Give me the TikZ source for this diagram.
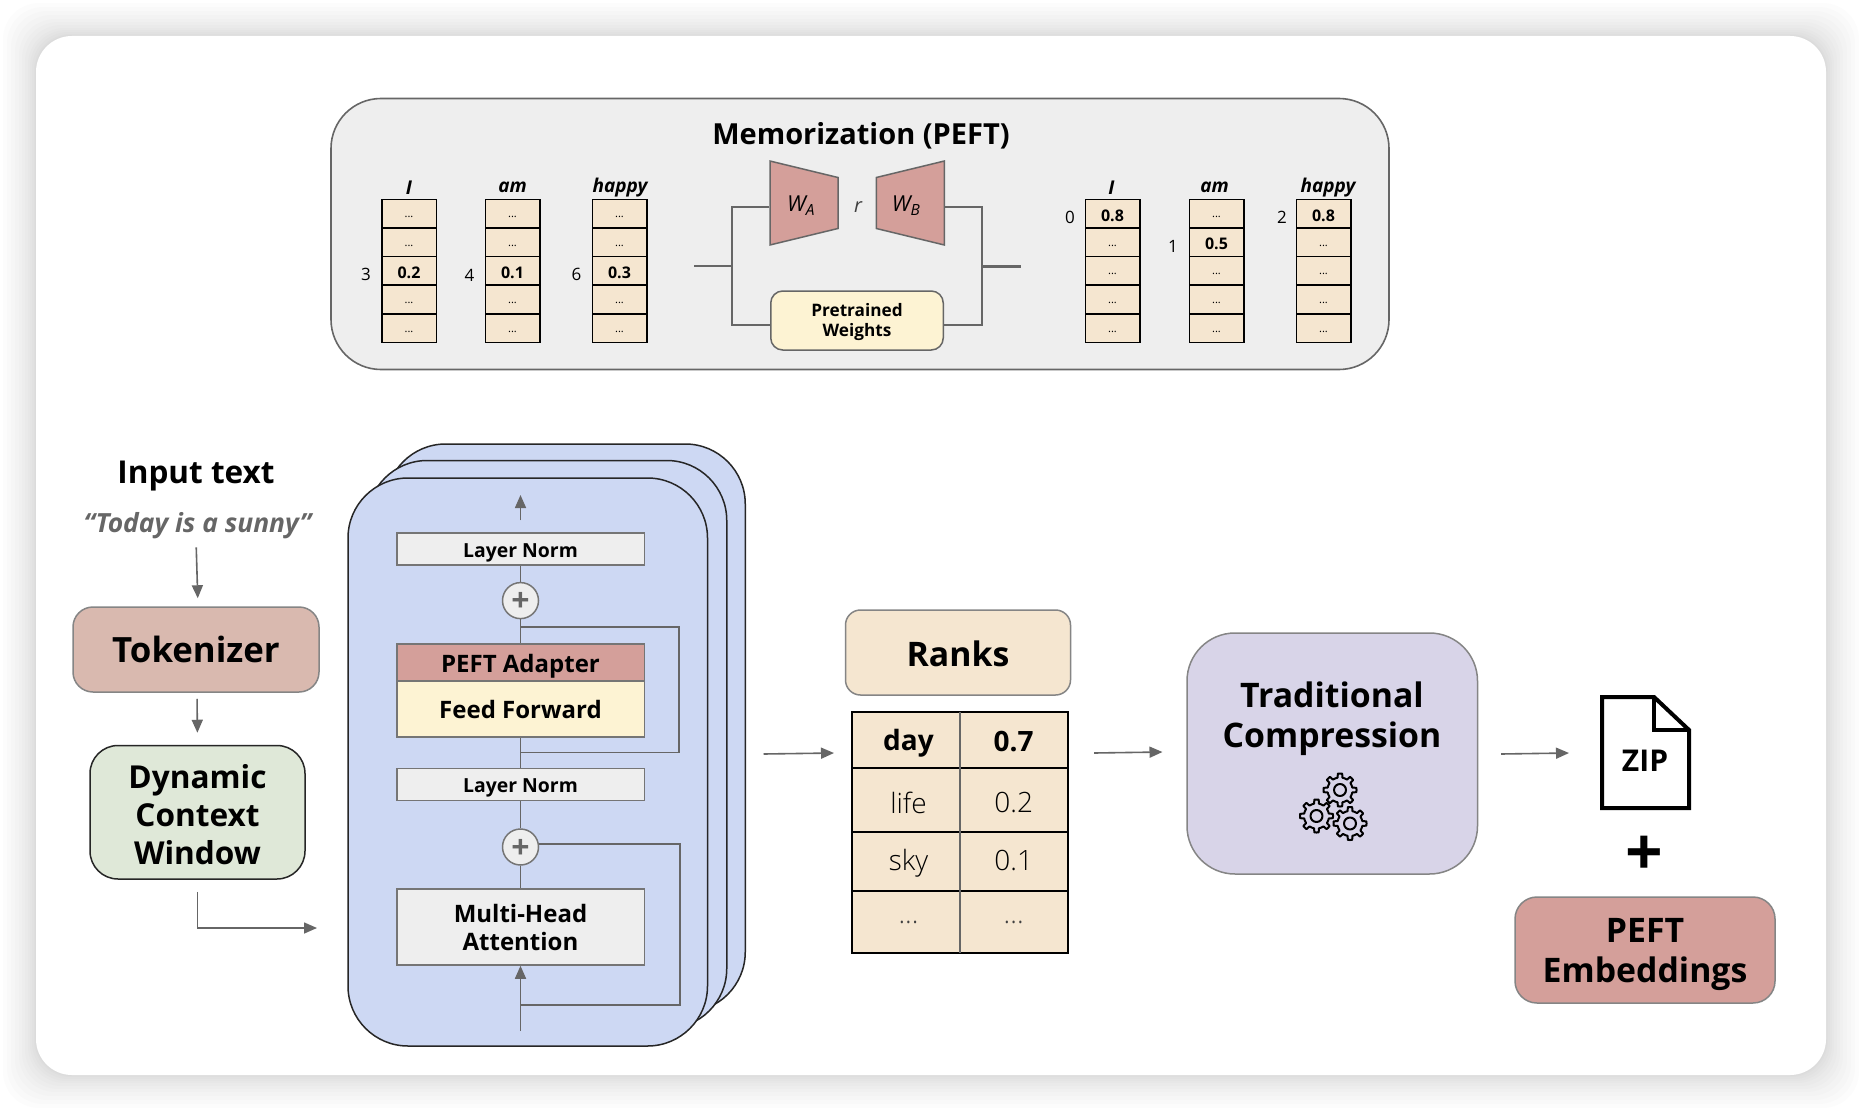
\documentclass[tikz,border=0pt]{standalone}
\usepackage{fontspec}
\setmainfont{Open Sans}
\newfontfamily\lightfont{Open Sans Light}
\usepackage{xcolor}
\usetikzlibrary{shapes.geometric,arrows.meta}

\definecolor{sand}{HTML}{F5E6D0}
\definecolor{cream}{HTML}{FDF3D3}
\definecolor{adapter}{HTML}{D49F9A}
\definecolor{tokred}{HTML}{D9B9AF}
\definecolor{softgreen}{HTML}{DFE8D8}
\definecolor{softblue}{HTML}{CDD8F3}
\definecolor{lilac}{HTML}{D8D4E8}
\definecolor{panel}{HTML}{EEEEEE}
\definecolor{wire}{HTML}{666666}

% moves a text down without changing its box
\newcommand{\nudge}[2]{\raisebox{-#1}[\height][\depth]{#2}}

\begin{document}
\begin{tikzpicture}[x=1pt, y=-1pt, >={Triangle[length=13pt,width=11pt]}]
    \tikzstyle{bigbox} = [rectangle, inner sep=0pt, align=center, draw=wire!80, line width=1.5pt, font=\fontsize{33.8}{40}\selectfont\bfseries]
    \tikzstyle{boxtext} = [inner sep=0pt, align=center]
    \tikzstyle{layerbox} = [rectangle, inner sep=0pt, align=center, minimum width=247.5pt, draw=wire!90, line width=1.5pt, fill=panel, font=\fontsize{19.4}{28}\selectfont\bfseries]
    \tikzstyle{layercard} = [rectangle, rounded corners=60pt, minimum width=359.5pt, minimum height=568pt, draw=black!85, line width=1.5pt, fill=softblue]
    \tikzstyle{rankcell} = [rectangle, inner sep=0pt, minimum width=54.5pt, minimum height=28.5pt, draw=black, line width=1.5pt, fill=sand, font=\fontsize{11}{13}\selectfont]
    \tikzstyle{tablecell} = [rectangle, inner sep=0pt, minimum width=107.7pt, fill=sand, font=\fontsize{28}{32}\selectfont\lightfont]
    \tikzstyle{wordlabel} = [inner sep=0pt, font=\fontsize{19}{22}\selectfont\bfseries\itshape]
    \tikzstyle{indexlabel} = [inner sep=0pt, font=\fontsize{17}{18}\selectfont]
    \tikzstyle{trapez} = [trapezium, trapezium angle=76, trapezium stretches=true, minimum width=84pt, minimum height=68pt, inner sep=0pt, draw=wire, line width=1.5pt, fill=adapter]
    \tikzstyle{addnode} = [circle, inner sep=0pt, minimum size=36pt, draw=wire!90, line width=1.5pt, fill=panel, text=wire, font=\fontsize{32}{32}\selectfont\bfseries]
    \tikzstyle{flow} = [->, draw=wire, line width=1.6pt]
    \tikzstyle{link} = [draw=wire, line width=1.6pt]
    \tikzstyle{gearline} = [draw=black, line width=2pt, line join=round]

    \useasboundingbox (0,0) rectangle (1862,1110);

    % Card and its shadow
    \foreach \grow in {1,2,4,6,8,11,14,17,21,25,29,33}
        \fill [black, opacity=0.012, rounded corners=36pt] (36-\grow,36-\grow) rectangle (1826+\grow,1075+\grow);
    \fill [white, rounded corners=36pt] (36,36) rectangle (1826,1075);

    % Memorization panel
    \node [rectangle, rounded corners=50pt, minimum width=1058pt, minimum height=271pt, draw=wire, line width=1.6pt, fill=panel] (memory) at (860,234) {};
    \node [inner sep=0pt, font=\fontsize{29}{32}\selectfont\bfseries] (memtitle) at (861,135.5) {Memorization (PEFT)};

    \foreach \col/\cx/\lx/\word/\num/\hot/\val/\dist in {a/409/409/I/3/3/0.2/43, b/512.5/512.5/am/4/3/0.1/43, c/619.5/620/happy/6/3/0.3/43, d/1112.5/1111.5/I/0/1/0.8/42.5, e/1216.5/1214.5/am/1/2/0.5/43.5, f/1323.5/1328/happy/2/1/0.8/41.5}{
        \node [wordlabel] (\col word) at (\lx,187.5) {\word};
        \foreach \r in {1,...,5}
            \node [rankcell] (\col\r) at (\cx,{213.7+28.6*(\r-1)}) {\ifnum\r=\hot\relax\nudge{2pt}{\fontsize{16}{18}\selectfont\bfseries\val}\else\nudge{3.5pt}{...}\fi};
        \node [indexlabel, left of=\col\hot, node distance=\dist pt, yshift=-4pt] (\col num) {\num};
    }

    % Weights
    \node [trapez, shape border rotate=270] (wa) at (804,203) {\phantom{W}};
    \node [trapez, shape border rotate=90] (wb) at (910.25,203) {\phantom{W}};
    \node [boxtext, font=\fontsize{22}{24}\selectfont\itshape] (walabel) at (801,205.5) {W\textsubscript{A}};
    \node [boxtext, font=\fontsize{22}{24}\selectfont\itshape] (wblabel) at (906,205.5) {W\textsubscript{B}};
    \node [inner sep=0pt, text=black!75, font=\fontsize{20}{22}\selectfont\itshape] (rlabel) at (858,207) {r};
    \node [rectangle, rounded corners=12pt, minimum width=172.5pt, minimum height=59pt, draw=wire, line width=1.5pt, fill=cream] (pretrained) at (857,320.5) {};
    \node [boxtext, font=\fontsize{17.2}{20}\selectfont\bfseries] (pretrainedtext) at (857,322.5) {Pretrained\\Weights};

    \coordinate (memin) at (694,266);
    \coordinate (memleft) at (732,266);
    \coordinate (memright) at (982,266.5);
    \coordinate (memout) at (1021,266.5);
    \draw [link, line width=2.4pt] (memin) -- (memleft);
    \draw [link, line width=2.4pt] (memright) -- (memout);
    \draw [link] ([yshift=-4pt]wa.west) -| (memleft) |- ([yshift=-4.5pt]pretrained.west);
    \draw [link] ([yshift=-4pt]wb.east) -| (memright) |- ([yshift=-4.5pt]pretrained.east);

    % Input side
    \node [inner sep=0pt, font=\fontsize{31.5}{36}\selectfont\bfseries] (inputtext) at (196,476.5) {Input text};
    \node [inner sep=0pt, text=wire, font=\fontsize{26.4}{30}\selectfont\bfseries\itshape] (sentence) at (197.5,526) {“Today is a sunny”};
    \node [bigbox, rounded corners=20pt, minimum width=246pt, minimum height=85pt, fill=tokred, font=\fontsize{34.8}{40}\selectfont\bfseries] (tokenizer) at (196,649.5) {Tokenizer};
    \node [bigbox, rounded corners=28pt, minimum width=215pt, minimum height=133.5pt, fill=softgreen, draw=black!85] (window) at (197.5,812.25) {};
    \node [boxtext, font=\fontsize{31.6}{38}\selectfont\bfseries] (windowtext) at (197.5,815) {Dynamic\\Context\\Window};
    \coordinate (blockin) at (317,928);

    \draw [flow, shorten <=8pt, shorten >=8pt] ([xshift=-1.5pt]sentence.south) -- ([xshift=2pt]tokenizer.north);
    \draw [flow, shorten <=6pt, shorten >=12pt] ([xshift=1pt]tokenizer.south) -- (window.north);
    \draw [flow, shorten <=12pt] (window.south) |- (blockin);

    % Stacked layers
    \node [layercard] (cardback) at (565.5,728) {};
    \node [layercard] (cardmid) at (547,744.5) {};
    \node [layercard] (cardfront) at (527.75,762) {};

    \node [layerbox, minimum height=32pt] (normtop) at (520.5,549) {\nudge{3.5pt}{Layer Norm}};
    \node [addnode] (addtop) at (520.5,600.6) {\nudge{1.5pt}{+}};
    \node [layerbox, minimum height=37pt, fill=adapter, font=\fontsize{24}{28}\selectfont\bfseries] (peft) at (520.5,662.5) {\nudge{3.5pt}{PEFT Adapter}};
    \node [layerbox, minimum height=56pt, fill=cream, font=\fontsize{24}{28}\selectfont\bfseries] (forward) at (520.5,709) {Feed Forward};
    \node [layerbox, minimum height=32pt] (normlow) at (520.5,784.5) {\nudge{3pt}{Layer Norm}};
    \node [addnode] (addlow) at (520.5,847) {\nudge{1.5pt}{+}};
    \node [layerbox, minimum height=76pt, font=\fontsize{24}{28}\selectfont\bfseries] (attention) at (520.5,927) {Multi-Head\\Attention};

    \coordinate (stacktop) at (520.5,495);
    \coordinate (stackbottom) at (520.5,1031);
    \coordinate (skiptop) at (520.5,626.7);
    \coordinate (skipmid) at (520.5,752.4);
    \coordinate (skiplow) at (520.5,1004.7);

    \draw [flow, shorten <=12pt] (normtop.north) -- (stacktop);
    \draw [link] (normtop) -- (addtop);
    \draw [link] (addtop) -- (peft);
    \draw [link] (forward) -- (normlow);
    \draw [link] (normlow) -- (addlow);
    \draw [link] (addlow) -- (attention);
    \draw [flow] (stackbottom) -- (attention.south);
    \draw [link] (skiptop) -- ++(158.5,0) |- (skipmid);
    \draw [link] ([yshift=3pt]addlow.east) -- ++(141,0) |- (skiplow);

    % Ranks
    \coordinate (ranksfrom) at (763.5,754);
    \coordinate (ranksto) at (834,753);
    \draw [flow] (ranksfrom) -- (ranksto);
    \node [bigbox, rounded corners=15pt, minimum width=225pt, minimum height=85pt, fill=sand] (ranks) at (958,652.5) {\nudge{1pt}{Ranks}};

    \node [tablecell, minimum height=56pt, font=\fontsize{28}{32}\selectfont\bfseries] (worda) at (906,740) {\nudge{3.5pt}{\hspace*{5pt}day}};
    \node [tablecell, minimum height=56pt, font=\fontsize{28}{32}\selectfont\bfseries] (scorea) at (1013.7,740) {\nudge{2pt}{0.7}};
    \node [tablecell, minimum height=64pt] (wordb) at (906,800) {\nudge{2.5pt}{\hspace*{5pt}life}};
    \node [tablecell, minimum height=64pt] (scoreb) at (1013.7,800) {\nudge{2pt}{0.2}};
    \node [tablecell, minimum height=59pt] (wordc) at (906,861.5) {\nudge{1.5pt}{\hspace*{5pt}sky}};
    \node [tablecell, minimum height=59pt] (scorec) at (1013.7,861.5) {\nudge{-1pt}{0.1}};
    \node [tablecell, minimum height=62pt, text=black!75] (wordd) at (906,922) {\hspace*{5pt}...};
    \node [tablecell, minimum height=62pt, text=black!75] (scored) at (1013.7,922) {...};
    \draw [line width=1.6pt] (worda.north west) rectangle (scored.south east);
    \draw [line width=1.6pt] (wordb.north west) -- (scoreb.north east);
    \draw [line width=1.6pt] (wordc.north west) -- (scorec.north east);
    \draw [line width=1.6pt] (wordd.north west) -- (scored.north east);
    \draw [link, line width=1.2pt] (worda.north east) -- (wordd.south east);

    % Compression
    \coordinate (compressfrom) at (1094,753);
    \coordinate (compressto) at (1162.5,752);
    \draw [flow] (compressfrom) -- (compressto);
    \node [bigbox, rounded corners=48pt, minimum width=290.5pt, minimum height=241pt, fill=lilac] (compress) at (1332.25,753.5) {};
    \node [boxtext, font=\fontsize{33.8}{40}\selectfont\bfseries] (compresstext) at (1332,718.5) {Traditional\\Compression};
    \foreach \gx/\gy in {1340/790, 1316.5/816, 1350/823.5} {
        \draw [gearline, shift={(\gx,\gy)}] plot [domain=0:360, samples=97] ({\x}:{(min(mod(\x,45),45-mod(\x,45))<11)?16.5:12.5});
        \draw [gearline] (\gx,\gy) circle (6);
    }

    % Output
    \coordinate (zipfrom) at (1501,754);
    \coordinate (zipto) at (1569,753);
    \draw [flow] (zipfrom) -- (zipto);
    \draw [line width=4pt, fill=white, miter limit=10] (1602,697) -- (1654,697) -- (1689,730) -- (1689,808) -- (1602,808) -- cycle;
    \draw [line width=4pt] (1654,697) -- (1654,730) -- (1689,730);
    \node [inner sep=0pt, font=\fontsize{30}{34}\selectfont\bfseries] (ziptext) at (1645,761) {ZIP};
    \node [inner sep=0pt, font=\fontsize{66}{66}\selectfont\bfseries] (plusmark) at (1644,856) {+};
    \node [bigbox, rounded corners=22pt, minimum width=260pt, minimum height=106pt, fill=adapter] (embeddings) at (1645,950) {};
    \node [boxtext, font=\fontsize{33.8}{40}\selectfont\bfseries] (embeddingstext) at (1645,954) {PEFT\\Embeddings};
\end{tikzpicture}
\end{document}
